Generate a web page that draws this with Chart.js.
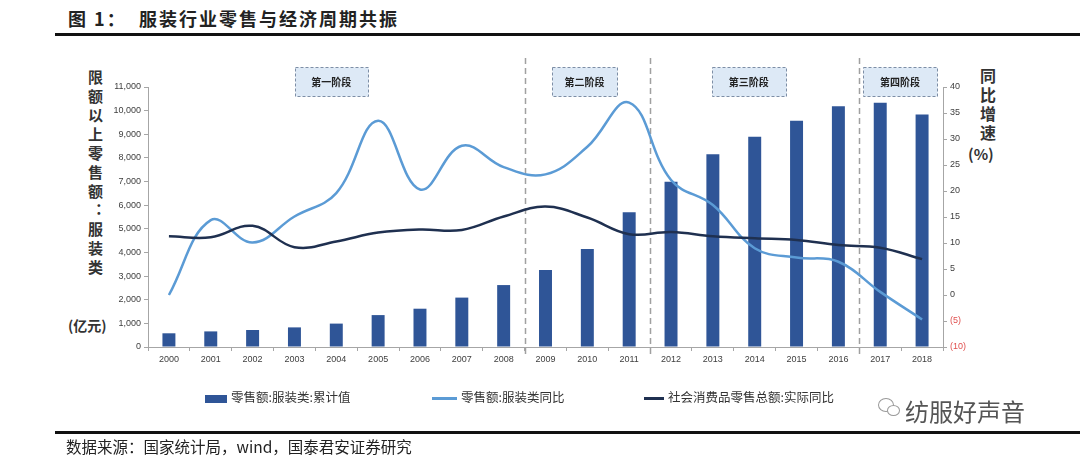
<!DOCTYPE html>
<html>
<head>
<meta charset="utf-8">
<script src="https://cdn.jsdelivr.net/npm/chart.js@4"></script>
<style>
body{margin:0;width:1080px;height:462px;background:#fff;position:relative;overflow:hidden;font-family:"Noto Sans CJK SC",sans-serif;color:#222;}
#c{position:absolute;left:0;top:0;}
.abs{position:absolute;white-space:nowrap;}
.rule{position:absolute;left:55px;right:0;height:3px;background:#111;}
.vt{position:absolute;writing-mode:vertical-rl;text-orientation:upright;font-weight:bold;color:#333;}
.leg{position:absolute;top:388px;font-size:12.5px;color:#333;white-space:nowrap;line-height:18px;}
.sw{display:inline-block;vertical-align:middle;margin-right:4px;}
</style>
</head>
<body>
<div class="abs" style="left:68px;top:5px;font-size:18px;font-weight:bold;letter-spacing:2px;">图 1：&nbsp; 服装行业零售与经济周期共振</div>
<div class="rule" style="top:33px;"></div>

<div class="vt" style="left:85px;top:70px;font-size:15px;letter-spacing:4px;">限额以上零售额：服装类</div>
<div class="abs" style="left:68px;top:315px;font-size:14px;font-weight:bold;color:#333;">(亿元)</div>
<div class="vt" style="left:976px;top:68px;font-size:16px;letter-spacing:3px;">同比增速</div>
<div class="abs" style="left:968px;top:143px;font-size:15px;font-weight:bold;color:#333;">(%)</div>

<canvas id="c" width="1080" height="462"></canvas>

<div class="leg" style="left:205px;"><span class="sw" style="width:22px;height:8px;background:#2f5597;"></span>零售额:服装类:累计值</div>
<div class="leg" style="left:432px;"><span class="sw" style="width:25px;height:3px;background:#5b9bd5;"></span>零售额:服装类同比</div>
<div class="leg" style="left:644px;"><span class="sw" style="width:20px;height:3px;background:#1f3050;"></span>社会消费品零售总额:实际同比</div>

<div class="abs" style="left:878px;top:398px;width:14px;height:12px;border:1.5px solid #999;border-radius:50%;"></div>
<div class="abs" style="left:887px;top:405px;width:11px;height:9px;border:1.5px solid #999;border-radius:50%;background:#fff;"></div>
<div class="abs" style="left:905px;top:393px;font-size:24px;color:#555;">纺服好声音</div>

<div class="rule" style="top:431px;"></div>
<div class="abs" style="left:66px;top:435px;font-size:15.5px;">数据来源：国家统计局，wind，国泰君安证券研究</div>

<script>
var years = ['2000','2001','2002','2003','2004','2005','2006','2007','2008','2009','2010','2011','2012','2013','2014','2015','2016','2017','2018'];
var apparelSales = [580, 660, 720, 830, 990, 1350, 1620, 2090, 2620, 3260, 4150, 5700, 6990, 8160, 8900, 9570, 10190, 10330, 9840];
var apparelYoY = [0, 14.4, 10.1, 15.1, 19.6, 33.5, 20.3, 28.7, 24.6, 23.2, 28.5, 37.0, 22.1, 17.3, 9.0, 7.2, 6.4, 0.6, -4.7];
var retailRealYoY = [11.3, 11.1, 13.3, 9.2, 10.3, 12.0, 12.6, 12.5, 15.1, 17.0, 14.9, 11.7, 12.1, 11.3, 10.9, 10.6, 9.6, 9.1, 6.9];

var phaseNames = ['第一阶段', '第二阶段', '第三阶段', '第四阶段'];
var phaseCenters = [3.88, 9.93, 13.86, 17.47];
var phaseWidths = [73, 65, 74, 74];
var phaseBreaks = [8.5, 11.5, 16.5];

var tickFont = {family: 'Liberation Sans', size: 9};

// dashed phase separators and the phase label boxes
var phasePlugin = {
    id: 'phases',
    beforeDatasetsDraw: function (chart) {
        var ctx = chart.ctx;
        var x = chart.scales.x;
        ctx.save();
        ctx.strokeStyle = '#a0a0a0';
        ctx.lineWidth = 1.5;
        ctx.setLineDash([6, 4]);
        phaseBreaks.forEach(function (b) {
            var px = Math.round(x.getPixelForValue(b)) + 0.5;
            ctx.beginPath();
            ctx.moveTo(px, 58);
            ctx.lineTo(px, chart.chartArea.bottom + 8);
            ctx.stroke();
        });
        ctx.setLineDash([3, 2]);
        ctx.lineWidth = 1;
        phaseNames.forEach(function (name, i) {
            var cx = x.getPixelForValue(phaseCenters[i]);
            var w = phaseWidths[i];
            var left = Math.round(cx - w / 2) + 0.5;
            ctx.fillStyle = '#dde9f6';
            ctx.fillRect(left, 67.5, w, 29);
            ctx.strokeStyle = '#7d8ea6';
            ctx.strokeRect(left, 67.5, w, 29);
            ctx.fillStyle = '#222';
            ctx.font = 'bold 10px "Noto Sans CJK SC"';
            ctx.textAlign = 'center';
            ctx.textBaseline = 'middle';
            ctx.fillText(name, cx, 82);
        });
        ctx.restore();
    }
};

new Chart(document.getElementById('c'), {
    type: 'bar',
    data: {
        labels: years,
        datasets: [{
            type: 'line',
            label: '社会消费品零售总额:实际同比',
            data: retailRealYoY,
            yAxisID: 'y1',
            borderColor: '#1f3050',
            borderWidth: 2.5,
            pointRadius: 0,
            tension: 0.4,
            order: 1
        }, {
            type: 'line',
            label: '零售额:服装类同比',
            data: apparelYoY,
            yAxisID: 'y1',
            borderColor: '#5b9bd5',
            borderWidth: 2.5,
            pointRadius: 0,
            tension: 0.4,
            order: 2
        }, {
            label: '零售额:服装类:累计值',
            data: apparelSales,
            yAxisID: 'y',
            backgroundColor: '#2f5597',
            barPercentage: 0.31,
            categoryPercentage: 1,
            order: 3
        }]
    },
    options: {
        responsive: false,
        animation: false,
        devicePixelRatio: 1,
        layout: {padding: {left: 100, right: 97, top: 87, bottom: 95}},
        plugins: {legend: {display: false}, tooltip: {enabled: false}},
        scales: {
            x: {
                afterFit: function (s) { s.height = 20; },
                border: {color: '#a6a6a6'},
                grid: {drawOnChartArea: false, tickLength: 4, color: '#a6a6a6'},
                ticks: {font: tickFont, color: '#404040', padding: 3, maxRotation: 0, autoSkip: false}
            },
            y: {
                position: 'left',
                min: 0,
                max: 11000,
                afterFit: function (s) { s.width = 48; },
                border: {color: '#a6a6a6'},
                grid: {drawOnChartArea: false, tickLength: 4, color: '#a6a6a6'},
                ticks: {
                    stepSize: 1000, font: tickFont, color: '#404040', padding: 3,
                    callback: function (v) { return v.toLocaleString('en-US'); }
                }
            },
            y1: {
                position: 'right',
                min: -10,
                max: 40,
                afterFit: function (s) { s.width = 40; },
                border: {color: '#a6a6a6'},
                grid: {drawOnChartArea: false, tickLength: 4, color: '#a6a6a6'},
                ticks: {
                    stepSize: 5, font: tickFont, padding: 3,
                    color: function (c) { return c.tick.value < 0 ? '#e0504f' : '#404040'; },
                    callback: function (v) { return v < 0 ? '(' + (-v) + ')' : v; }
                }
            }
        }
    },
    plugins: [phasePlugin]
});
</script>
</body>
</html>
